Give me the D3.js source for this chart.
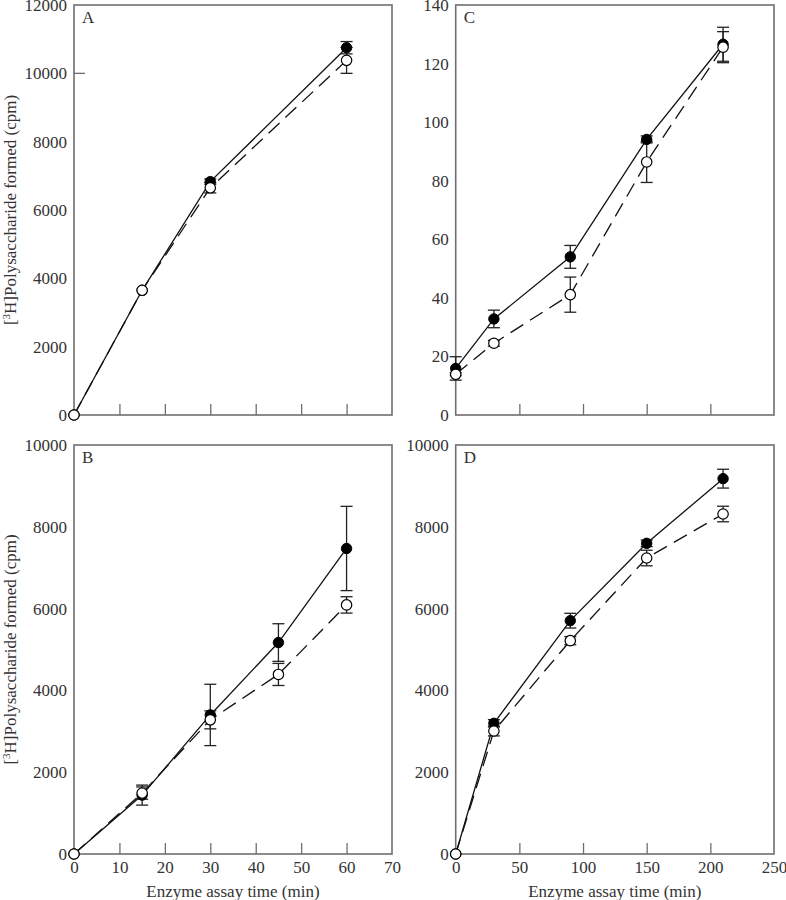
<!DOCTYPE html>
<html>
<head>
<meta charset="utf-8">
<script src="https://cdn.jsdelivr.net/npm/d3@7"></script>
<style>
  html, body { margin: 0; padding: 0; background: #fff; }
  svg { display: block; }
  text { font-family: "Liberation Serif", "Times New Roman", serif; fill: #333; }
</style>
</head>
<body>
<svg id="chart" width="786" height="900"></svg>
<script>
// ---------- data ----------
const timesA = [0, 15, 30, 60];
const aFilled = [0, 3650, 6830, 10750];
const aFilledErr = [0, 0, 80, 180];
const aOpen = [0, 3650, 6650, 10380];
const aOpenErr = [0, 0, 150, 380];

const timesB = [0, 15, 30, 45, 60];
const bFilled = [0, 1440, 3400, 5170, 7470];
const bFilledErr = [0, 245, 750, 460, 1030];
const bOpen = [0, 1490, 3280, 4390, 6090];
const bOpenErr = [0, 150, 220, 270, 200];

const timesCD = [0, 30, 90, 150, 210];
const cFilled = [15.9, 32.8, 54.0, 94.1, 126.6];
const cFilledErr = [4, 3, 3.9, 1.2, 5.8];
const cOpen = [13.9, 24.5, 41.1, 86.4, 125.6];
const cOpenErr = [0.5, 1, 6, 7, 5.3];

const dFilled = [0, 3195, 5705, 7596, 9177];
const dFilledErr = [0, 90, 180, 80, 230];
const dOpen = [0, 3007, 5216, 7237, 8313];
const dOpenErr = [0, 120, 100, 190, 190];

const xTicksMin = [0, 10, 20, 30, 40, 50, 60, 70];
const xTicksLong = [0, 50, 100, 150, 200, 250];
const yTicksA = [0, 2000, 4000, 6000, 8000, 10000, 12000];
const yTicksBD = [0, 2000, 4000, 6000, 8000, 10000];
const yTicksC = [0, 20, 40, 60, 80, 100, 120, 140];

const yLabel = "Polysaccharide formed (cpm)";
const xLabel = "Enzyme assay time (min)";

// ---------- layout ----------
const svg = d3.select("#chart");
const colL = [74, 392], colR = [455.7, 774];
const rowT = [415, 5], rowB = [854, 445];
const frameColor = "#6f6f6f";
const FS = 17;

const panels = [
  { letter: "A", xr: colL, yr: rowT, xd: [0, 70], yd: [0, 12000], xt: xTicksMin, yt: yTicksA, xlab: false, ylab: true,
    t: timesA, f: aFilled, fe: aFilledErr, o: aOpen, oe: aOpenErr, yInner: [10000] },
  { letter: "C", xr: colR, yr: rowT, xd: [0, 250], yd: [0, 140], xt: xTicksLong, yt: yTicksC, xlab: false, ylab: false,
    t: timesCD, f: cFilled, fe: cFilledErr, o: cOpen, oe: cOpenErr, yInner: [] },
  { letter: "B", xr: colL, yr: rowB, xd: [0, 70], yd: [0, 10000], xt: xTicksMin, yt: yTicksBD, xlab: true, ylab: true,
    t: timesB, f: bFilled, fe: bFilledErr, o: bOpen, oe: bOpenErr, yInner: [] },
  { letter: "D", xr: colR, yr: rowB, xd: [0, 250], yd: [0, 10000], xt: xTicksLong, yt: yTicksBD, xlab: true, ylab: false,
    t: timesCD, f: dFilled, fe: dFilledErr, o: dOpen, oe: dOpenErr, yInner: [] }
];

panels.forEach(p => {
  const x = d3.scaleLinear().domain(p.xd).range(p.xr);
  const y = d3.scaleLinear().domain(p.yd).range(p.yr);
  const g = svg.append("g");
  const x0 = p.xr[0], x1 = p.xr[1], yb = p.yr[0], yt = p.yr[1];

  // inward x ticks (bottom)
  const xAx = g.append("g").attr("transform", `translate(0,${yb})`)
    .call(d3.axisBottom(x).tickValues(p.xt).tickSize(-11).tickPadding(p.xlab ? 7 : 0)
      .tickFormat(p.xlab ? d3.format("d") : () => ""));
  xAx.attr("font-size", null).attr("font-family", null);
  xAx.select(".domain").remove();
  xAx.selectAll(".tick line").attr("stroke", frameColor).attr("stroke-width", 1.3);
  xAx.selectAll(".tick text").style("font-size", FS + "px").attr("fill", "#333");
  xAx.selectAll(".tick").filter(d => d === p.xd[0] || d === p.xd[1]).select("line").remove();

  // y axis labels (no ticks, except inner marks)
  const yAx = g.append("g").attr("transform", `translate(${x0},0)`)
    .call(d3.axisLeft(y).tickValues(p.yt).tickSize(0).tickPadding(7).tickFormat(d3.format("d")));
  yAx.attr("font-size", null).attr("font-family", null);
  yAx.select(".domain").remove();
  yAx.selectAll(".tick text").style("font-size", FS + "px").attr("fill", "#333");
  p.yInner.forEach(v => {
    g.append("line").attr("x1", x0).attr("x2", x0 + 11).attr("y1", y(v)).attr("y2", y(v))
      .attr("stroke", frameColor).attr("stroke-width", 1.3);
  });

  // frame
  g.append("rect").attr("x", x0).attr("y", yt).attr("width", x1 - x0).attr("height", yb - yt)
    .attr("fill", "none").attr("stroke", frameColor).attr("stroke-width", 1.6);

  // panel letter
  g.append("text").attr("x", x0 + 8).attr("y", yt + 18).style("font-size", "17px").text(p.letter);

  const fData = p.t.map((t, i) => ({ t, v: p.f[i], e: p.fe[i] }));
  const oData = p.t.map((t, i) => ({ t, v: p.o[i], e: p.oe[i] }));
  const line = d3.line().x(d => x(d.t)).y(d => y(d.v));

  g.append("path").datum(fData).attr("d", line).attr("fill", "none")
    .attr("stroke", "#111").attr("stroke-width", 1.3);
  g.append("path").datum(oData).attr("d", line).attr("fill", "none")
    .attr("stroke", "#111").attr("stroke-width", 1.3).attr("stroke-dasharray", "15,8");

  // error bars
  const cap = 6;
  [fData, oData].forEach(data => {
    const eb = g.append("g").selectAll("g").data(data.filter(d => d.e > 0)).enter().append("g")
      .attr("stroke", "#222").attr("stroke-width", 1.3);
    eb.append("line").attr("x1", d => x(d.t)).attr("x2", d => x(d.t))
      .attr("y1", d => y(d.v - d.e)).attr("y2", d => y(d.v + d.e));
    eb.append("line").attr("x1", d => x(d.t) - cap).attr("x2", d => x(d.t) + cap)
      .attr("y1", d => y(d.v + d.e)).attr("y2", d => y(d.v + d.e));
    eb.append("line").attr("x1", d => x(d.t) - cap).attr("x2", d => x(d.t) + cap)
      .attr("y1", d => y(d.v - d.e)).attr("y2", d => y(d.v - d.e));
  });

  // markers
  g.append("g").selectAll("circle").data(fData).enter().append("circle")
    .attr("cx", d => x(d.t)).attr("cy", d => y(d.v)).attr("r", 5.2)
    .attr("fill", "#000").attr("stroke", "#000").attr("stroke-width", 1);
  g.append("g").selectAll("circle").data(oData).enter().append("circle")
    .attr("cx", d => x(d.t)).attr("cy", d => y(d.v)).attr("r", 5.2)
    .attr("fill", "#fff").attr("stroke", "#000").attr("stroke-width", 1.2);

  // axis titles
  if (p.xlab) {
    g.append("text").attr("x", (x0 + x1) / 2).attr("y", 897).attr("text-anchor", "middle")
      .style("font-size", FS + "px").text(xLabel);
  }
  if (p.ylab) {
    const t = g.append("text").attr("transform", `translate(16,${(yb + yt) / 2}) rotate(-90)`)
      .attr("text-anchor", "middle").style("font-size", FS + "px");
    t.append("tspan").text("[");
    t.append("tspan").style("font-size", "11px").attr("dy", -6).text("3");
    t.append("tspan").attr("dy", 6).text("H]" + yLabel);
  }
});
</script>
</body>
</html>
